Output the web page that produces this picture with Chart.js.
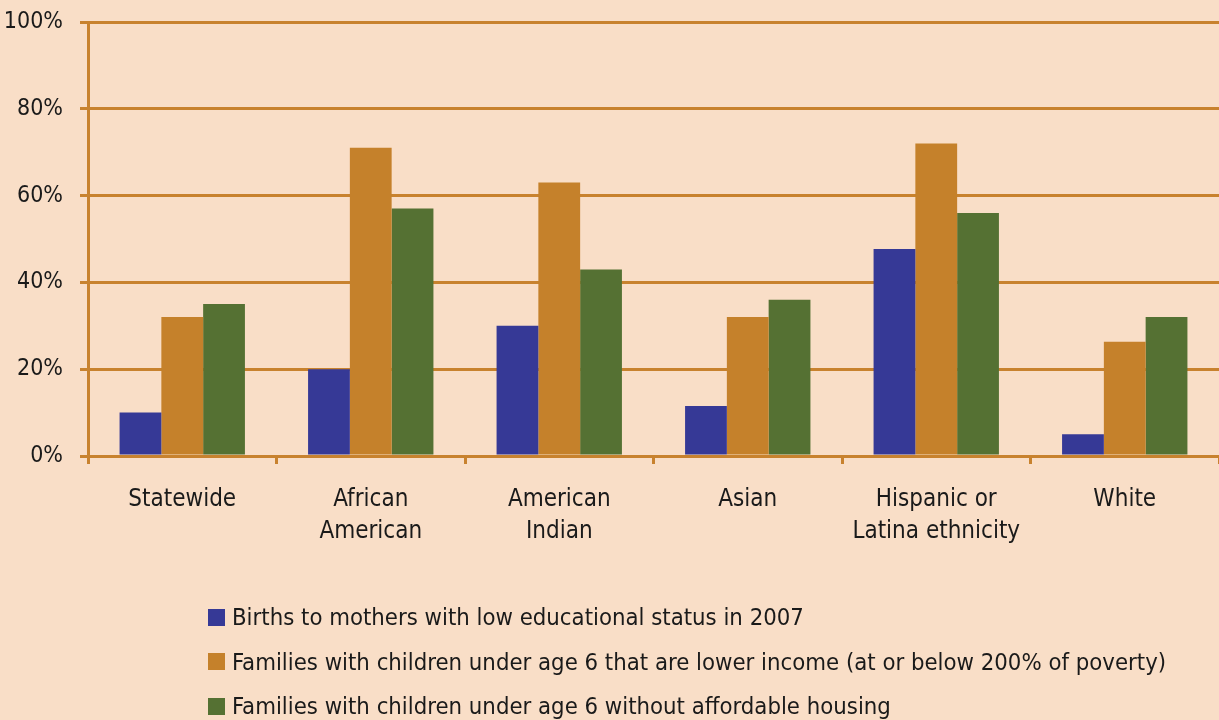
<!DOCTYPE html>
<html>
<head>
<meta charset="utf-8">
<script src="https://cdn.jsdelivr.net/npm/chart.js@4.4.1/dist/chart.umd.min.js"></script>
<style>
    html, body { margin: 0; padding: 0; background: #F9DEC7; }
    #wrap { position: relative; width: 1219px; height: 720px; }
    #legend {
        position: absolute; left: 208px; top: 595px;
        font-family: "DejaVu Sans Condensed", sans-serif;
        font-size: 23.7px; color: #1a1a1a; white-space: nowrap;
    }
    .item { height: 44.5px; display: flex; align-items: center; }
    .box { width: 17px; height: 17px; margin-right: 7px; flex: none; }
</style>
</head>
<body>
<div id="wrap">
    <canvas id="chart" width="1219" height="720"></canvas>
    <div id="legend"></div>
</div>
<script>
const categories = [
    'Statewide',
    ['African', 'American'],
    ['American', 'Indian'],
    'Asian',
    ['Hispanic or', 'Latina ethnicity'],
    'White'
];
const seriesNames = [
    'Births to mothers with low educational status in 2007',
    'Families with children under age 6 that are lower income (at or below 200% of poverty)',
    'Families with children under age 6 without affordable housing'
];
const lowEducation = [10, 20, 30, 11.5, 47.7, 5];
const lowerIncome = [32, 71, 63, 32, 72, 26.3];
const noAffordableHousing = [35, 57, 43, 36, 56, 32];
const yTicks = [0, 20, 40, 60, 80, 100];

const colors = ['#363996', '#C5812B', '#557133'];
const gridColor = '#C8822E';
const fontFamily = '"DejaVu Sans Condensed", sans-serif';

const seriesValues = [lowEducation, lowerIncome, noAffordableHousing];

// legend in html, one item per row
const legendEl = document.getElementById('legend');
seriesNames.forEach((name, i) => {
    const row = document.createElement('div');
    row.className = 'item';
    row.innerHTML = '<span class="box" style="background:' + colors[i] + '"></span>' + name;
    legendEl.appendChild(row);
});

const ctx = document.getElementById('chart').getContext('2d');
new Chart(ctx, {
    type: 'bar',
    data: {
        labels: categories,
        datasets: seriesValues.map((vals, i) => ({
            label: seriesNames[i],
            data: vals,
            backgroundColor: colors[i],
            borderWidth: 0,
            barPercentage: 1,
            categoryPercentage: 0.665
        }))
    },
    options: {
        responsive: false,
        animation: false,
        layout: { padding: { top: 22, right: 0, bottom: 164, left: 0 } },
        plugins: {
            legend: { display: false },
            tooltip: { enabled: false }
        },
        scales: {
            x: {
                afterFit: scale => { scale.height = 100; },
                grid: {
                    offset: true,
                    drawOnChartArea: false,
                    drawTicks: true,
                    tickLength: 8,
                    tickWidth: 3,
                    tickColor: gridColor
                },
                border: { color: gridColor, width: 3 },
                ticks: {
                    color: '#1a1a1a',
                    padding: 19,
                    maxRotation: 0,
                    font: { family: fontFamily, size: 24, lineHeight: 1.36 }
                }
            },
            y: {
                min: 0,
                max: 100,
                afterFit: scale => {
                    scale.width = 88;
                    scale.paddingTop = 0;
                    scale.paddingBottom = 0;
                },
                afterBuildTicks: scale => { scale.ticks = yTicks.map(v => ({ value: v })); },
                grid: {
                    color: gridColor,
                    lineWidth: 3,
                    tickLength: 8
                },
                border: { color: gridColor, width: 3 },
                ticks: {
                    color: '#1a1a1a',
                    padding: 17,
                    callback: v => v + '%',
                    font: { family: fontFamily, size: 23 }
                }
            }
        }
    }
});
</script>
</body>
</html>
